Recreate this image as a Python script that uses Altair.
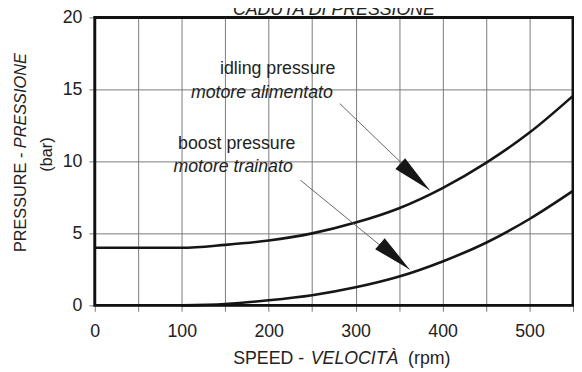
import altair as alt
import pandas as pd

# ---- data ----
speed_idling = [0, 100, 150, 200, 250, 300, 350, 400, 450, 500, 550]
pressure_idling = [4.0, 4.0, 4.2, 4.5, 5.0, 5.75, 6.75, 8.15, 9.9, 12.0, 14.55]
speed_boost = [100, 150, 200, 250, 300, 350, 400, 450, 500, 550]
pressure_boost = [0.0, 0.1, 0.35, 0.7, 1.25, 2.0, 3.05, 4.35, 6.0, 7.95]

x_ticks = list(range(0, 551, 50))
y_ticks = [0, 2.5, 5, 7.5, 10, 12.5, 15, 17.5, 20]

label_text = ["idling pressure", "motore alimentato", "boost pressure", "motore trainato"]
label_x = [210.3, 192.2, 163.3, 159.1]
label_y = [16.40, 14.76, 11.21, 9.62]
label_style = ["normal", "italic", "normal", "italic"]

arrow_x = [281.7, 236.4]
arrow_y = [14.02, 8.70]
arrow_tip_x = [385.0, 362.2]
arrow_tip_y = [8.01, 2.49]
arrow_angle = [42, 41]

# ---- layout ----
W, H = 485, 292
FONT = "Liberation Sans"
TXT = "#222222"
GRID = "#7a7a7a"

curves = pd.DataFrame({
    "speed": speed_idling + speed_boost,
    "pressure": pressure_idling + pressure_boost,
    "series": ["idling"] * len(speed_idling) + ["boost"] * len(speed_boost),
})
labels = pd.DataFrame({"text": label_text, "x": label_x, "y": label_y, "style": label_style})
arrows = pd.DataFrame({"x": arrow_x, "y": arrow_y, "x2": arrow_tip_x, "y2": arrow_tip_y, "angle": arrow_angle})

xscale = alt.Scale(domain=[0, 550], nice=False, zero=False)
yscale = alt.Scale(domain=[0, 20], nice=False)

xaxis = alt.Axis(values=x_ticks, labelExpr="datum.value % 100 == 0 ? datum.label : ''",
                 grid=True, gridColor=GRID, gridWidth=1, gridOpacity=1,
                 ticks=True, tickColor=GRID, tickSize=6, tickWidth=1, domain=False,
                 labelFont=FONT, labelFontSize=18, labelColor=TXT, labelPadding=12,
                 labelFlush=False, labelOverlap=False, title=None)
yaxis = alt.Axis(values=y_ticks, labelExpr="datum.value % 5 == 0 ? datum.label : ''",
                 grid=True, gridColor=GRID, gridWidth=1, gridOpacity=1,
                 ticks=True, tickColor=GRID, tickSize=6, tickWidth=1, domain=False,
                 labelFont=FONT, labelFontSize=18, labelColor=TXT, labelPadding=7,
                 labelFlush=False, labelOverlap=False, title=None)

lines = alt.Chart(curves).mark_line(color="#161616", strokeWidth=2.6, interpolate="monotone").encode(
    x=alt.X("speed:Q", scale=xscale, axis=xaxis),
    y=alt.Y("pressure:Q", scale=yscale, axis=yaxis),
    detail="series:N",
)

def ann_layer(style):
    return alt.Chart(labels).transform_filter(alt.datum.style == style).mark_text(
        font=FONT, fontSize=18, color=TXT, align="center", baseline="middle", fontStyle=style
    ).encode(
        x=alt.X("x:Q", scale=xscale),
        y=alt.Y("y:Q", scale=yscale),
        text="text:N",
    )

arrow_lines = alt.Chart(arrows).mark_rule(color="#555555", strokeWidth=0.9).encode(
    x=alt.X("x:Q", scale=xscale), y=alt.Y("y:Q", scale=yscale),
    x2="x2:Q", y2="y2:Q",
)

heads = alt.Chart(arrows).mark_point(
    shape="M0,0 L-2,-0.37 L-2,0.37 Z", filled=True, color="#161616", opacity=1, size=1600, strokeWidth=0
).encode(
    x=alt.X("x2:Q", scale=xscale), y=alt.Y("y2:Q", scale=yscale),
    angle=alt.Angle("angle:Q", scale=None),
)

one = pd.DataFrame({"k": [0]})

frame = alt.Chart(one).mark_rect(fillOpacity=0, stroke="#111111", strokeWidth=3).encode(
    x=alt.value(0), x2=alt.value(W), y=alt.value(0), y2=alt.value(H)
)

def txt(text, x, y, angle=0, align="center", style="normal", size=18, baseline="middle"):
    return alt.Chart(one).mark_text(text=text, font=FONT, fontSize=size, color=TXT, align=align,
                                    baseline=baseline, angle=angle, fontStyle=style).encode(
        x=alt.value(x), y=alt.value(y))

titles = [
    txt("CADUTA DI PRESSIONE", W / 2, -2.5, style="italic", size=18, baseline="alphabetic"),
    txt("SPEED -", 212.3, 351.3, align="right", baseline="alphabetic"),
    txt("VELOCITÀ", 219, 351.3, align="left", style="italic", baseline="alphabetic"),
    txt("(rpm)", 360.7, 351.3, align="right", baseline="alphabetic"),
    txt("PRESSURE -", -75, 238, angle=270, align="left", size=16.5),
    txt("PRESSIONE", -75, 132.6, angle=270, align="left", style="italic", size=16.5),
    txt("(bar)", -48, 139, angle=270, align="center", size=16.5),
]

chart = alt.layer(lines, arrow_lines, heads, ann_layer("normal"), ann_layer("italic"), frame, *titles).properties(
    width=W, height=H,
    autosize=alt.AutoSizeParams(type="none"),
    padding={"left": 88, "top": 7, "right": 1, "bottom": 64},
    background="white",
).configure_view(stroke=None)

chart.save("out.html", embed_options={"renderer": "svg", "actions": False})
